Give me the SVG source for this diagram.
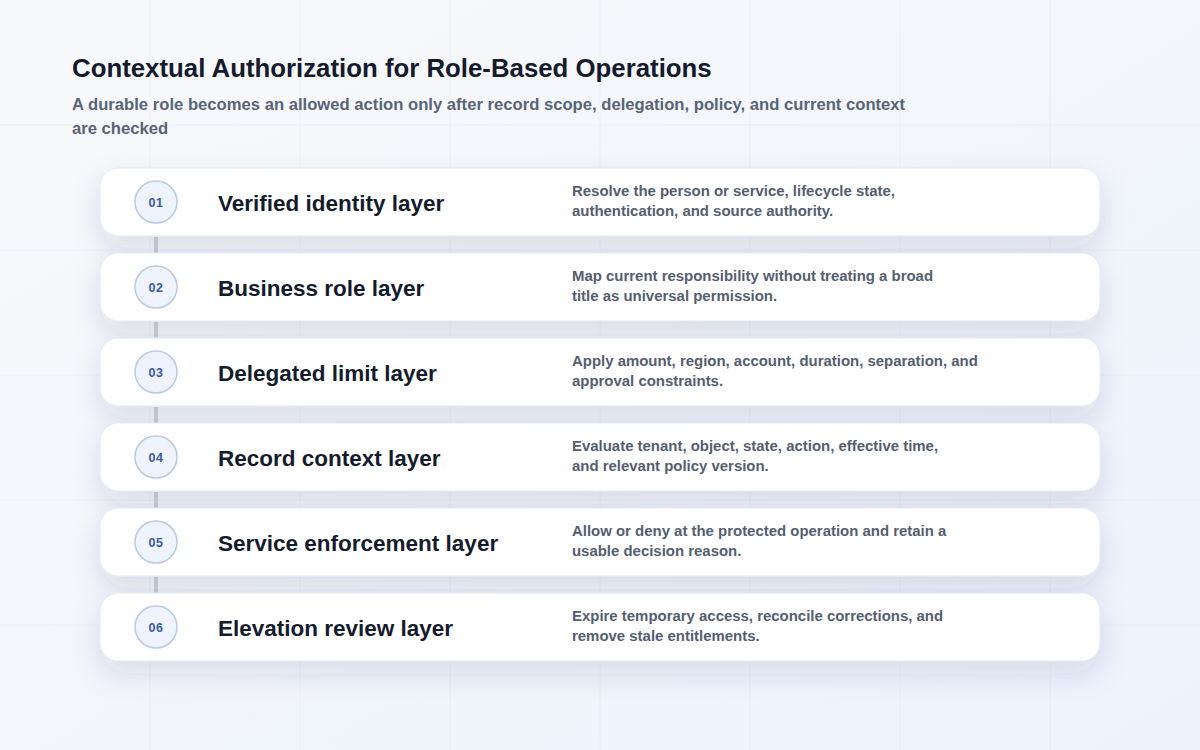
<svg xmlns="http://www.w3.org/2000/svg" width="1200" height="750" viewBox="0 0 1200 750">
  <defs>
    <linearGradient id="bg" x1="0" y1="0" x2="1" y2="1">
      <stop offset="0" stop-color="#f8f9fb"/>
      <stop offset="1" stop-color="#edf2fc"/>
    </linearGradient>
    <filter id="shadow" x="-10%" y="-50%" width="120%" height="220%">
      <feDropShadow dx="0" dy="12" stdDeviation="14" flood-color="#2a3a64" flood-opacity="0.13"/>
    </filter>
    <style>
      .title { font-family: "Liberation Sans", Arial, sans-serif; font-weight: bold; font-size: 25.8px; fill: #141b2d; }
      .sub { font-family: "Liberation Sans", Arial, sans-serif; font-weight: bold; font-size: 16.65px; fill: #5a6478; }
      .card { fill: #ffffff; stroke: #e3e7ef; stroke-width: 1; filter: url(#shadow); }
      .badge { fill: #eef3fd; stroke: #b9c9e6; stroke-width: 1.5; }
      .num { font-family: "Liberation Sans", Arial, sans-serif; font-weight: bold; font-size: 12.5px; fill: #3a58a8; text-anchor: middle; letter-spacing: 0.5px; }
      .name { font-family: "Liberation Sans", Arial, sans-serif; font-weight: bold; font-size: 22.5px; fill: #141b2d; }
      .desc { font-family: "Liberation Sans", Arial, sans-serif; font-weight: bold; font-size: 14.95px; fill: #545e70; }
      .grid line { stroke: #e2e6ee; stroke-width: 1; opacity: 0.45; }
      .conn { stroke: #cdd1d9; stroke-width: 4; }
    </style>
  </defs>

  <rect x="0" y="0" width="1200" height="750" fill="url(#bg)"/>
  <g class="grid">
    <line x1="150" y1="0" x2="150" y2="750"/>
    <line x1="300" y1="0" x2="300" y2="750"/>
    <line x1="450" y1="0" x2="450" y2="750"/>
    <line x1="600" y1="0" x2="600" y2="750"/>
    <line x1="750" y1="0" x2="750" y2="750"/>
    <line x1="900" y1="0" x2="900" y2="750"/>
    <line x1="1050" y1="0" x2="1050" y2="750"/>
    <line x1="0" y1="125" x2="1200" y2="125"/>
    <line x1="0" y1="250" x2="1200" y2="250"/>
    <line x1="0" y1="375" x2="1200" y2="375"/>
    <line x1="0" y1="500" x2="1200" y2="500"/>
    <line x1="0" y1="625" x2="1200" y2="625"/>
  </g>

  <g id="header">
    <text class="title" x="72" y="77">Contextual Authorization for Role-Based Operations</text>
    <text class="sub" x="72" y="110">A durable role becomes an allowed action only after record scope, delegation, policy, and current context</text>
    <text class="sub" x="72" y="134">are checked</text>
  </g>

  <g id="connectors">
    <line class="conn" x1="156" y1="237" x2="156" y2="253"/>
    <line class="conn" x1="156" y1="322" x2="156" y2="338"/>
    <line class="conn" x1="156" y1="407" x2="156" y2="423"/>
    <line class="conn" x1="156" y1="492" x2="156" y2="508"/>
    <line class="conn" x1="156" y1="577" x2="156" y2="593"/>
  </g>

  <g id="layer-01">
    <rect class="card" x="100" y="168" width="1000" height="68" rx="18"/>
    <circle class="badge" cx="156" cy="202" r="21"/>
    <text class="num" x="156" y="206.5">01</text>
    <text class="name" x="218" y="211">Verified identity layer</text>
    <text class="desc" x="572" y="196">Resolve the person or service, lifecycle state,</text>
    <text class="desc" x="572" y="216">authentication, and source authority.</text>
  </g>

  <g id="layer-02">
    <rect class="card" x="100" y="253" width="1000" height="68" rx="18"/>
    <circle class="badge" cx="156" cy="287" r="21"/>
    <text class="num" x="156" y="291.5">02</text>
    <text class="name" x="218" y="296">Business role layer</text>
    <text class="desc" x="572" y="281">Map current responsibility without treating a broad</text>
    <text class="desc" x="572" y="301">title as universal permission.</text>
  </g>

  <g id="layer-03">
    <rect class="card" x="100" y="338" width="1000" height="68" rx="18"/>
    <circle class="badge" cx="156" cy="372" r="21"/>
    <text class="num" x="156" y="376.5">03</text>
    <text class="name" x="218" y="381">Delegated limit layer</text>
    <text class="desc" x="572" y="366">Apply amount, region, account, duration, separation, and</text>
    <text class="desc" x="572" y="386">approval constraints.</text>
  </g>

  <g id="layer-04">
    <rect class="card" x="100" y="423" width="1000" height="68" rx="18"/>
    <circle class="badge" cx="156" cy="457" r="21"/>
    <text class="num" x="156" y="461.5">04</text>
    <text class="name" x="218" y="466">Record context layer</text>
    <text class="desc" x="572" y="451">Evaluate tenant, object, state, action, effective time,</text>
    <text class="desc" x="572" y="471">and relevant policy version.</text>
  </g>

  <g id="layer-05">
    <rect class="card" x="100" y="508" width="1000" height="68" rx="18"/>
    <circle class="badge" cx="156" cy="542" r="21"/>
    <text class="num" x="156" y="546.5">05</text>
    <text class="name" x="218" y="551">Service enforcement layer</text>
    <text class="desc" x="572" y="536">Allow or deny at the protected operation and retain a</text>
    <text class="desc" x="572" y="556">usable decision reason.</text>
  </g>

  <g id="layer-06">
    <rect class="card" x="100" y="593" width="1000" height="68" rx="18"/>
    <circle class="badge" cx="156" cy="627" r="21"/>
    <text class="num" x="156" y="631.5">06</text>
    <text class="name" x="218" y="636">Elevation review layer</text>
    <text class="desc" x="572" y="621">Expire temporary access, reconcile corrections, and</text>
    <text class="desc" x="572" y="641">remove stale entitlements.</text>
  </g>
</svg>
